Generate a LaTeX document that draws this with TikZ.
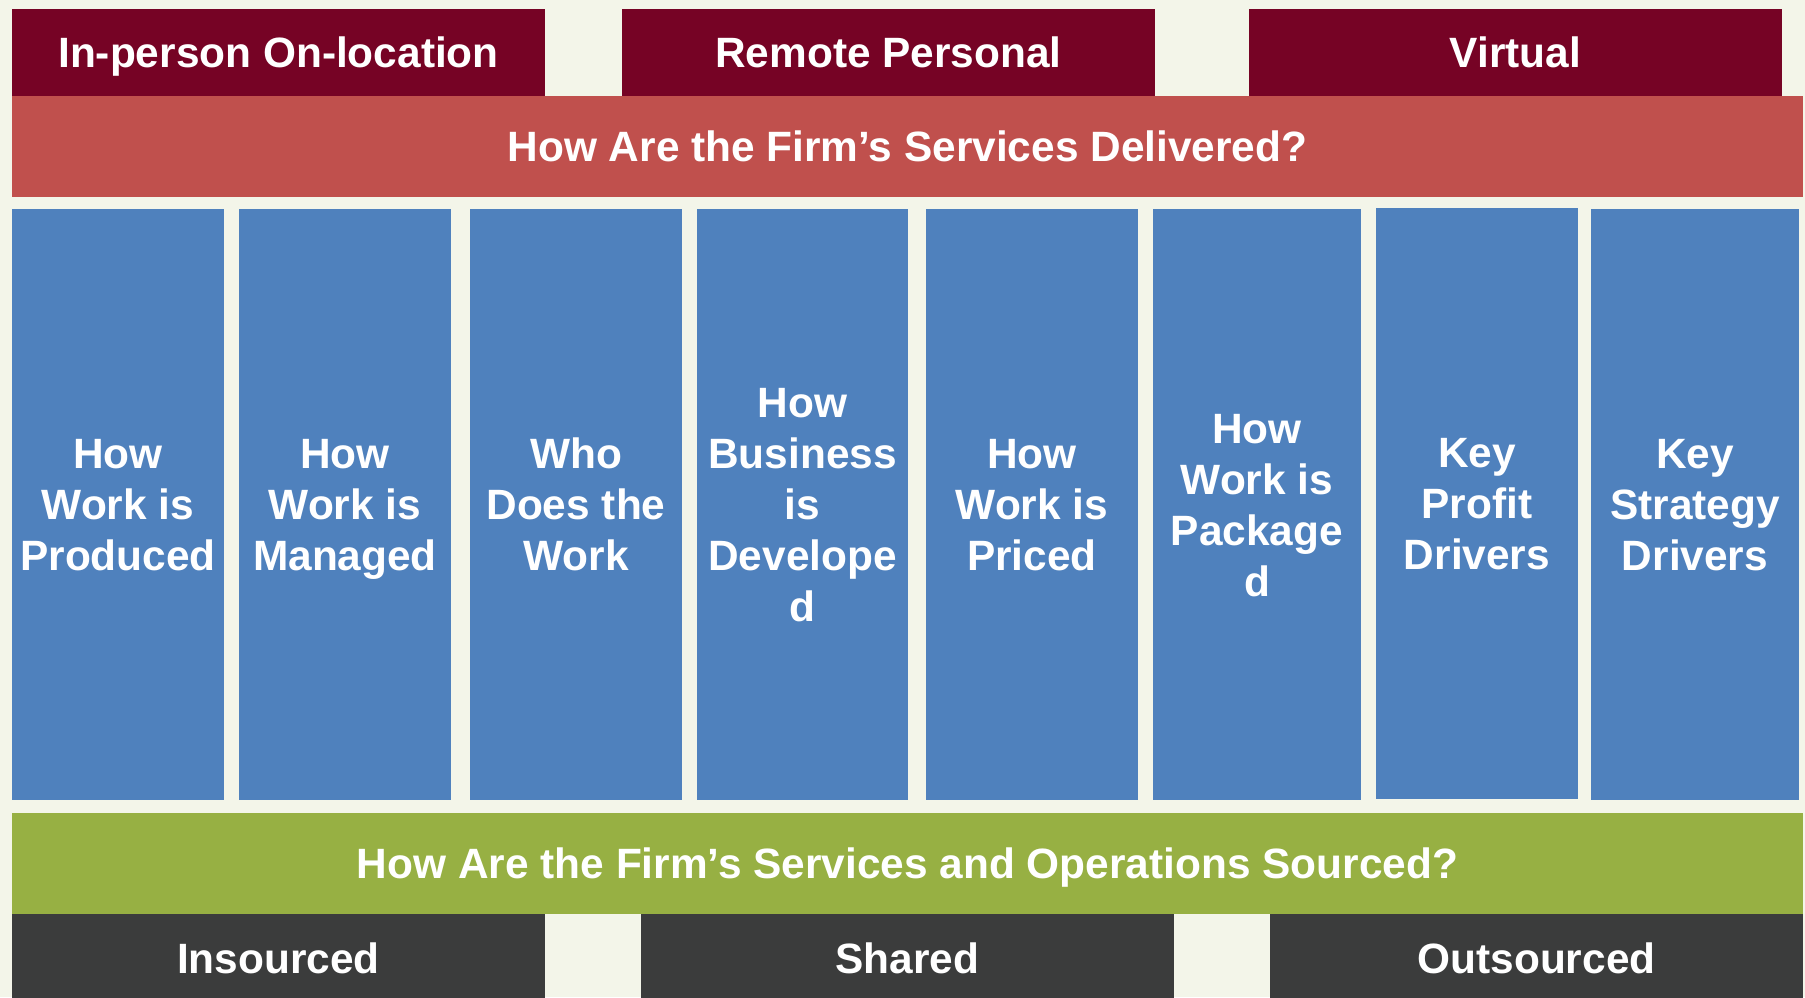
\documentclass[tikz,border=0pt]{standalone}
\usepackage{fontspec}
\setmainfont{Liberation Sans}
\definecolor{bgc}{RGB}{243,245,233}
\definecolor{maroonc}{RGB}{118,3,37}
\definecolor{redc}{RGB}{192,80,77}
\definecolor{bluec}{RGB}{79,129,189}
\definecolor{greenc}{RGB}{151,176,67}
\definecolor{darkc}{RGB}{59,60,60}
\newcommand\hs{\rule{0pt}{42.4pt}}
\newcommand\ds{\rule[-12pt]{0pt}{12pt}}
\tikzset{
  txt/.style={text=white, font=\bfseries\fontsize{42.4}{50.9}\selectfont, inner sep=0pt, align=center},
  topbox/.style={txt, fill=maroonc, minimum width=533pt, minimum height=87pt},
  redband/.style={txt, fill=redc, minimum width=1791pt, minimum height=101pt},
  colbox/.style={txt, fill=bluec, minimum height=591pt},
  greenband/.style={txt, fill=greenc, minimum width=1791pt, minimum height=101pt},
  botbox/.style={txt, fill=darkc, minimum width=533pt, minimum height=88pt}
}
\begin{document}
\begin{tikzpicture}[x=1pt,y=-1pt]
\useasboundingbox (0,0) rectangle (1805,997);
\fill[bgc] (0,0) rectangle (1805,997);
% top boxes
\node[topbox] (m1) at (278.5,52.5) {\hs In-person On-location\ds};
\node[topbox] (m2) at (888.5,52.5) {\hs Remote Personal\ds};
\node[topbox] (m3) at (1515.5,52.5) {\hs Virtual\ds};
% red band
\node[redband] (deliv) at (907.5,146.5) {\hs How Are the Firm’s Services Delivered?\ds};
% columns
\node[colbox, minimum width=212pt] (c1) at (118,504.5) {\hs How\\Work is\\Produced\ds};
\node[colbox, minimum width=212pt] (c2) at (345,504.5) {\hs How\\Work is\\Managed\ds};
\node[colbox, minimum width=212pt] (c3) at (576,504.5) {\hs Who\\Does the\\Work\ds};
\node[colbox, minimum width=211pt] (c4) at (802.5,504.5) {\hs How\\Business\\is\\Develope\\d\ds};
\node[colbox, minimum width=212pt] (c5) at (1032,504.5) {\hs How\\Work is\\Priced\ds};
\node[colbox, minimum width=208pt] (c6) at (1257,504.5) {\hs How\\Work is\\Package\\d\ds};
\node[colbox, minimum width=202pt] (c7) at (1477,503.5) {\hs Key\\Profit\\Drivers\ds};
\node[colbox, minimum width=208pt] (c8) at (1695,504.5) {\hs Key\\Strategy\\Drivers\ds};
% green band
\node[greenband] (src) at (907.5,863.5) {\hs How Are the Firm’s Services and Operations Sourced?\ds};
% bottom boxes
\node[botbox] (d1) at (278.5,958) {\hs Insourced\ds};
\node[botbox] (d2) at (907.5,958) {\hs Shared\ds};
\node[botbox] (d3) at (1536.5,958) {\hs Outsourced\ds};
\end{tikzpicture}
\end{document}
